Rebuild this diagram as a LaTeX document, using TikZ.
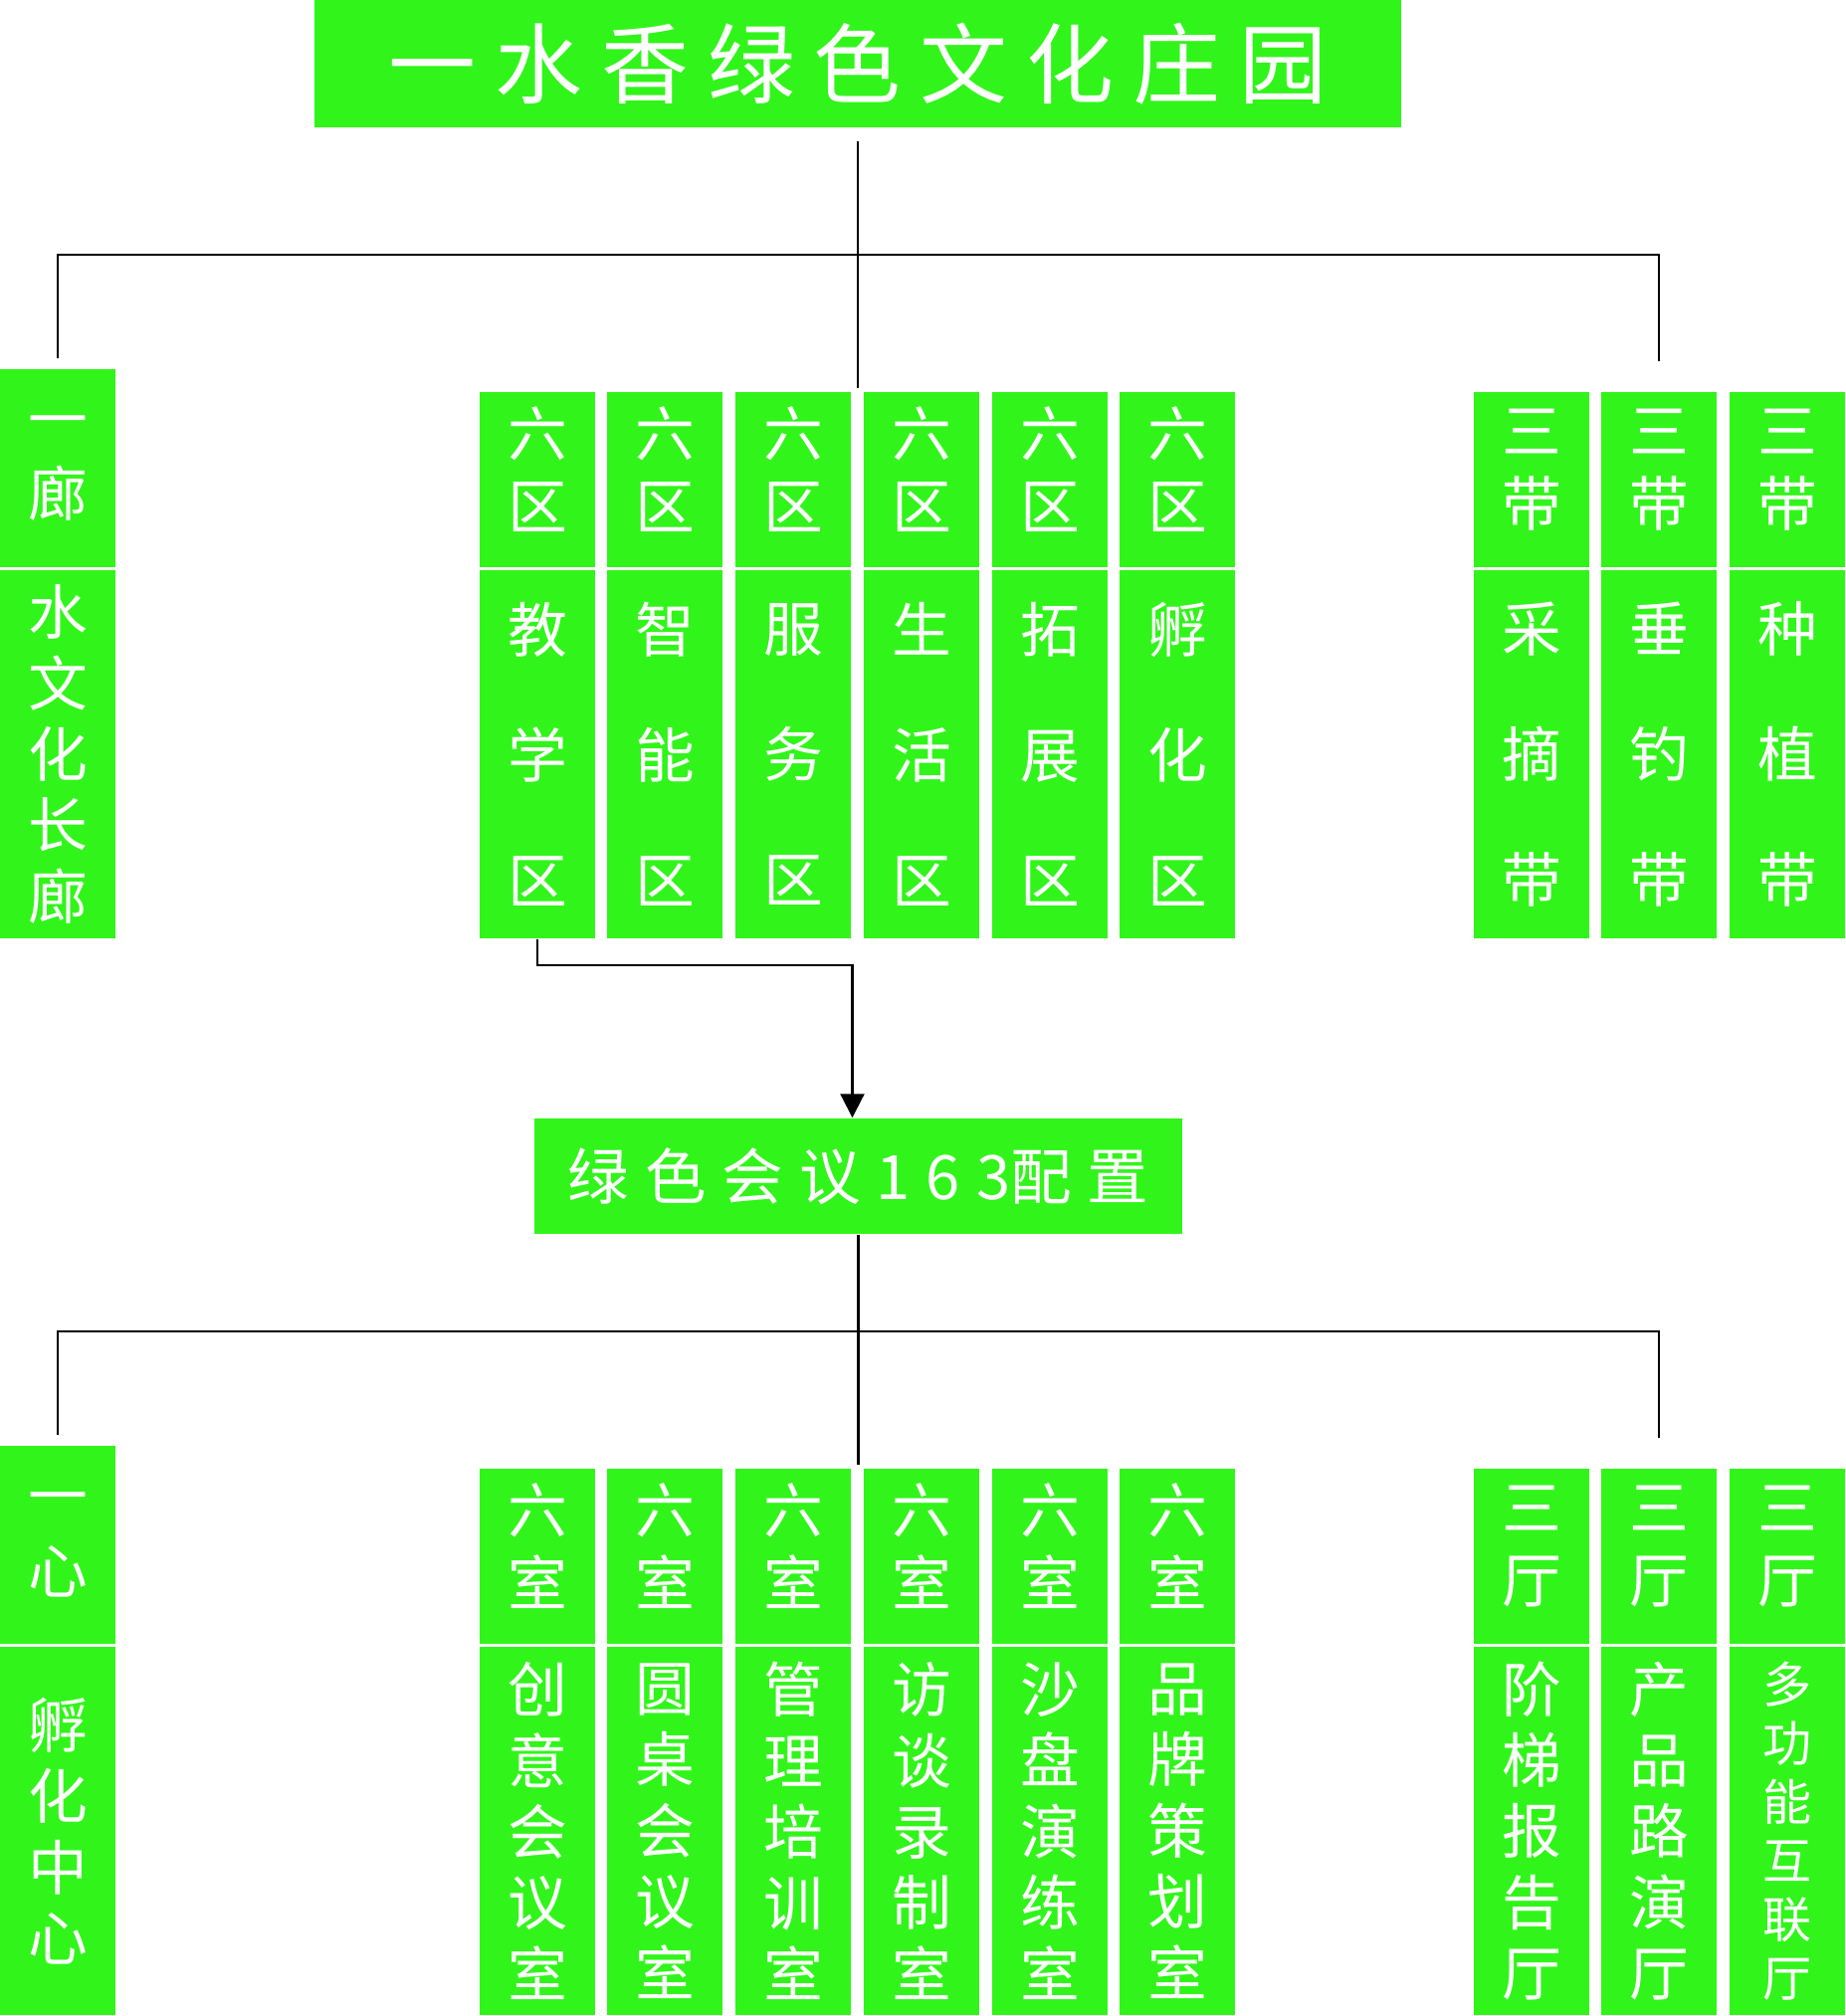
\documentclass[tikz,border=0pt]{standalone}
\usepackage{fontspec}
\usepackage{tikz}
\usetikzlibrary{arrows.meta}
\newfontfamily\zhfont{Noto Sans CJK SC}
\definecolor{leaf}{RGB}{49,245,26}
\makeatletter
\newcommand\spaced[2]{\def\spc@gap{}\@tfor\spc@c:=#2\do{\spc@gap\spc@c\def\spc@gap{\hspace{#1}}}}
\makeatother

\begin{document}
\begin{tikzpicture}[
  x=0.01cm,y=-0.01cm,
  zone/.style={fill=leaf,text=white,inner sep=0pt,minimum width=1.15cm,align=center},
  head/.style={zone,minimum height=1.76cm,text depth=2.4mm,font={\zhfont\fontsize{17}{20.8}\selectfont}},
  headL/.style={zone,minimum height=1.99cm,font={\zhfont\fontsize{17}{21.5}\selectfont}},
  body/.style={zone,minimum height=3.70cm,font={\zhfont\fontsize{17}{35.9}\selectfont}},
  bodyL/.style={zone,minimum height=3.70cm,font={\zhfont\fontsize{17}{20.3}\selectfont}},
  bodyS/.style={zone,minimum height=3.70cm,font={\zhfont\fontsize{14}{16.8}\selectfont}},
  banner/.style={fill=leaf,text=white,inner sep=0pt},
  link/.style={line width=0.6pt,black},
  arr/.style={link,-{Triangle[length=2.4mm,width=2.4mm]}}
]
\useasboundingbox (0,0) rectangle (1855,2026);

% -------------------------
% Title
% -------------------------
\node[banner,minimum width=10.92cm,minimum height=1.28cm,font={\zhfont\fontsize{25}{30}\selectfont}] (title) at (862,64) {\spaced{1.9mm}{一水香绿色文化庄园}};

% -------------------------
% Upper row: corridor, six zones, three belts
% -------------------------
\node[headL] (c1h) at (58,470.5) {一\\廊};
\node[bodyL] (c1b) at (58,758) {水\\文\\化\\长\\廊};

\node[head] (z1h) at (540,482) {六\\区};
\node[body] (z1b) at (540,758) {教\\学\\区};
\node[head] (z2h) at (668,482) {六\\区};
\node[body] (z2b) at (668,758) {智\\能\\区};
\node[head] (z3h) at (797,482) {六\\区};
\node[body] (z3b) at (797,758) {服\\务\\区};
\node[head] (z4h) at (926,482) {六\\区};
\node[body] (z4b) at (926,758) {生\\活\\区};
\node[head] (z5h) at (1055,482) {六\\区};
\node[body] (z5b) at (1055,758) {拓\\展\\区};
\node[head] (z6h) at (1183,482) {六\\区};
\node[body] (z6b) at (1183,758) {孵\\化\\区};

\node[head] (b1h) at (1539,482) {三\\带};
\node[body] (b1b) at (1539,758) {采\\摘\\带};
\node[head] (b2h) at (1667,482) {三\\带};
\node[body] (b2b) at (1667,758) {垂\\钓\\带};
\node[head] (b3h) at (1796,482) {三\\带};
\node[body] (b3b) at (1796,758) {种\\植\\带};

\coordinate (bus1) at (862,256);
\draw[link,shorten <=1.3mm,shorten >=0.3mm] (title.south) -- (title.south |- z3h.north);
\draw[link] ([yshift=1mm]c1h.north) |- (bus1) -| ([yshift=3mm]b2h.north);

% -------------------------
% Middle: meeting configuration
% -------------------------
\node[banner,minimum width=6.51cm,minimum height=1.16cm,font={\zhfont\fontsize{17.5}{21}\selectfont}] (meet) at (862.5,1182) {\spaced{1.6mm}{绿色会议16{3配}置}};
\draw[arr] (z1b.south) -- ++(0,26) -| ([xshift=-0.6mm]meet.north);

% -------------------------
% Lower row: centre, six rooms, three halls
% -------------------------
\node[headL] (k1h) at (58,1552.5) {一\\心};
\node[bodyL] (k1b) at (58,1840) {孵\\化\\中\\心};

\node[head] (r1h) at (540,1564) {六\\室};
\node[bodyL] (r1b) at (540,1840) {创\\意\\会\\议\\室};
\node[head] (r2h) at (668,1564) {六\\室};
\node[bodyL] (r2b) at (668,1840) {圆\\桌\\会\\议\\室};
\node[head] (r3h) at (797,1564) {六\\室};
\node[bodyL] (r3b) at (797,1840) {管\\理\\培\\训\\室};
\node[head] (r4h) at (926,1564) {六\\室};
\node[bodyL] (r4b) at (926,1840) {访\\谈\\录\\制\\室};
\node[head] (r5h) at (1055,1564) {六\\室};
\node[bodyL] (r5b) at (1055,1840) {沙\\盘\\演\\练\\室};
\node[head] (r6h) at (1183,1564) {六\\室};
\node[bodyL] (r6b) at (1183,1840) {品\\牌\\策\\划\\室};

\node[head] (h1h) at (1539,1564) {三\\厅};
\node[bodyL] (h1b) at (1539,1840) {阶\\梯\\报\\告\\厅};
\node[head] (h2h) at (1667,1564) {三\\厅};
\node[bodyL] (h2b) at (1667,1840) {产\\品\\路\\演\\厅};
\node[head] (h3h) at (1796,1564) {三\\厅};
\node[bodyS] (h3b) at (1796,1840) {多\\功\\能\\互\\联\\厅};

\coordinate (bus2) at (862,1338);
\draw[link,shorten >=0.3mm] (meet.south) -- (meet.south |- r3h.north);
\draw[link] ([yshift=1mm]k1h.north) |- (bus2) -| ([yshift=3mm]h2h.north);

\end{tikzpicture}
\end{document}
